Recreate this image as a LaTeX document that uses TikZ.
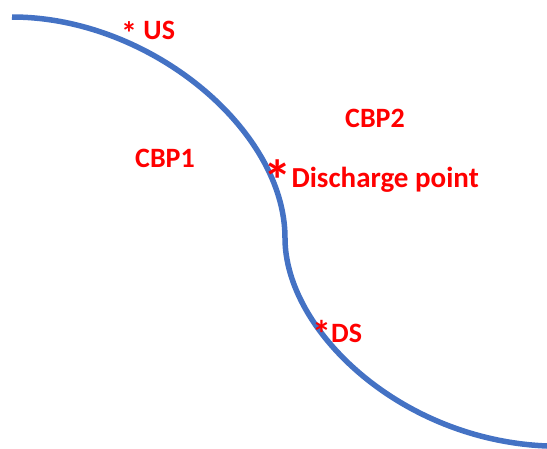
\documentclass[tikz,border=0pt]{standalone}
\usepackage{fontspec}
\setmainfont{Carlito}
\usetikzlibrary{positioning}
\definecolor{riverblue}{RGB}{68,114,196}
\newcommand{\markstar}[2]{{\fontsize{#1}{#1}\selectfont\raisebox{#2}{*}}}

\begin{document}
\begin{tikzpicture}[x=1pt, y=-1pt]
    % Styles
    \tikzstyle{tag} = [text=red, inner sep=0pt, anchor=base west, font=\bfseries\fontsize{28}{30}\selectfont]
    \tikzstyle{river} = [draw=riverblue, line width=5.5pt]

    \useasboundingbox (0,0) rectangle (547,448);

    % River bank
    \coordinate (west) at (12,17);
    \coordinate (bend) at (285,238);
    \coordinate (east) at (547,446);
    \draw[river] (west) .. controls (150,17) and (285,130) .. (bend)
                        .. controls (285,330) and (400,440) .. (east);

    % Nodes
    \node[tag] (us) at (121,39) {\markstar{32pt}{-5pt} US};
    \node[tag, font=\bfseries\fontsize{29}{30}\selectfont] (discharge) at (263,187) {\markstar{57pt}{-13pt}Discharge point};
    \node[tag] (ds) at (312,342) {\markstar{38pt}{-5pt}DS};
    \node[tag] (cbp1) at (135,167) {CBP1};
    \node[tag] (cbp2) at (345,127) {CBP2};

\end{tikzpicture}
\end{document}
